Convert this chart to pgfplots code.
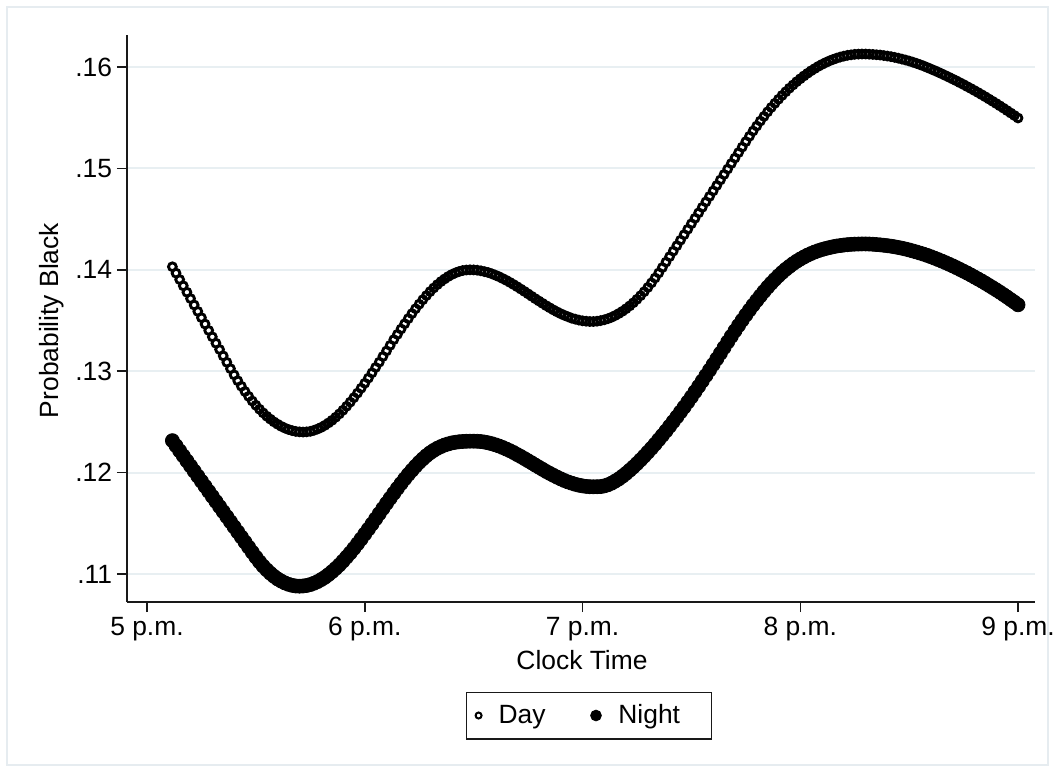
\documentclass[border=0pt]{standalone}
\usepackage{fontspec}
\setmainfont{Liberation Sans}
\usepackage{pgfplots}
\usepackage{pgfplotstable}
\pgfplotsset{compat=1.18}

\definecolor{gridc}{RGB}{232,239,242}
\definecolor{framec}{RGB}{230,236,240}
\definecolor{axisc}{RGB}{25,25,25}

% Predicted probability by minute after 5 p.m.
\pgfplotstableread{
t day night
7 .14030 .12315
8 .13967 .12265
9 .13904 .12215
10 .13842 .12165
11 .13779 .12115
12 .13716 .12065
13 .13653 .12015
14 .13590 .11965
15 .13528 .11915
16 .13465 .11865
17 .13402 .11815
18 .13339 .11765
19 .13276 .11715
20 .13214 .11665
21 .13151 .11615
22 .13088 .11565
23 .13025 .11515
24 .12964 .11465
25 .12906 .11415
26 .12852 .11365
27 .12800 .11315
28 .12752 .11265
29 .12706 .11215
30 .12664 .11166
31 .12625 .11120
32 .12589 .11078
33 .12556 .11041
34 .12527 .11007
35 .12500 .10977
36 .12477 .10951
37 .12456 .10930
38 .12439 .10912
39 .12425 .10898
40 .12414 .10888
41 .12406 .10882
42 .12402 .10880
43 .12400 .10882
44 .12402 .10887
45 .12407 .10896
46 .12417 .10909
47 .12430 .10925
48 .12446 .10945
49 .12466 .10967
50 .12490 .10994
51 .12516 .11023
52 .12546 .11055
53 .12579 .11089
54 .12615 .11127
55 .12654 .11167
56 .12695 .11208
57 .12739 .11252
58 .12784 .11298
59 .12832 .11345
60 .12881 .11394
61 .12932 .11443
62 .12984 .11493
63 .13037 .11544
64 .13089 .11595
65 .13145 .11646
66 .13200 .11697
67 .13255 .11747
68 .13311 .11796
69 .13363 .11845
70 .13416 .11892
71 .13468 .11938
72 .13519 .11982
73 .13568 .12023
74 .13616 .12063
75 .13661 .12101
76 .13705 .12135
77 .13746 .12167
78 .13785 .12195
79 .13821 .12219
80 .13854 .12240
81 .13884 .12257
82 .13910 .12272
83 .13934 .12283
84 .13954 .12293
85 .13970 .12299
86 .13983 .12304
87 .13993 .12307
88 .13998 .12309
89 .14000 .12310
90 .13999 .12310
91 .13996 .12309
92 .13990 .12306
93 .13982 .12301
94 .13973 .12294
95 .13961 .12285
96 .13947 .12274
97 .13932 .12262
98 .13914 .12248
99 .13896 .12232
100 .13876 .12216
101 .13855 .12198
102 .13833 .12178
103 .13810 .12159
104 .13787 .12138
105 .13763 .12117
106 .13739 .12096
107 .13715 .12074
108 .13692 .12053
109 .13669 .12032
110 .13646 .12011
111 .13625 .11992
112 .13604 .11973
113 .13585 .11955
114 .13567 .11938
115 .13551 .11922
116 .13537 .11908
117 .13523 .11896
118 .13513 .11885
119 .13504 .11876
120 .13497 .11869
121 .13493 .11864
122 .13490 .11861
123 .13490 .11860
124 .13493 .11861
125 .13499 .11862
126 .13507 .11869
127 .13518 .11880
128 .13532 .11896
129 .13549 .11916
130 .13569 .11938
131 .13591 .11964
132 .13616 .11992
133 .13644 .12023
134 .13675 .12055
135 .13709 .12089
136 .13745 .12125
137 .13784 .12162
138 .13826 .12201
139 .13871 .12240
140 .13919 .12281
141 .13969 .12324
142 .14022 .12367
143 .14076 .12411
144 .14130 .12457
145 .14184 .12503
146 .14238 .12550
147 .14292 .12598
148 .14346 .12646
149 .14400 .12696
150 .14454 .12746
151 .14508 .12798
152 .14562 .12850
153 .14616 .12903
154 .14670 .12957
155 .14724 .13011
156 .14778 .13066
157 .14832 .13122
158 .14886 .13177
159 .14940 .13233
160 .14994 .13289
161 .15048 .13344
162 .15102 .13398
163 .15156 .13451
164 .15210 .13503
165 .15264 .13554
166 .15317 .13603
167 .15369 .13651
168 .15418 .13697
169 .15467 .13742
170 .15513 .13786
171 .15558 .13828
172 .15601 .13868
173 .15642 .13905
174 .15682 .13941
175 .15720 .13974
176 .15756 .14005
177 .15791 .14033
178 .15823 .14060
179 .15855 .14084
180 .15884 .14106
181 .15912 .14126
182 .15938 .14145
183 .15963 .14161
184 .15985 .14176
185 .16007 .14189
186 .16026 .14200
187 .16044 .14210
188 .16060 .14219
189 .16074 .14227
190 .16087 .14234
191 .16098 .14239
192 .16107 .14244
193 .16115 .14248
194 .16120 .14251
195 .16125 .14253
196 .16127 .14254
197 .16128 .14255
198 .16128 .14255
199 .16126 .14254
200 .16124 .14252
201 .16121 .14249
202 .16118 .14246
203 .16113 .14242
204 .16108 .14238
205 .16102 .14233
206 .16095 .14227
207 .16087 .14220
208 .16078 .14213
209 .16069 .14205
210 .16059 .14196
211 .16048 .14186
212 .16036 .14176
213 .16023 .14165
214 .16010 .14154
215 .15995 .14142
216 .15980 .14129
217 .15965 .14115
218 .15949 .14101
219 .15933 .14086
220 .15916 .14071
221 .15899 .14055
222 .15881 .14039
223 .15864 .14022
224 .15845 .14004
225 .15827 .13986
226 .15807 .13968
227 .15788 .13949
228 .15768 .13929
229 .15748 .13909
230 .15727 .13889
231 .15706 .13868
232 .15684 .13846
233 .15662 .13824
234 .15640 .13802
235 .15617 .13779
236 .15594 .13755
237 .15570 .13731
238 .15546 .13706
239 .15522 .13681
240 .15497 .13655
}\probtable

\begin{document}
\begin{tikzpicture}
\path[use as bounding box] (0,0) rectangle (527.5bp,386bp);
\fill[white] (0,0) rectangle (527.5bp,386bp);
\draw[framec, line width=1bp] (3.5bp,3.5bp) rectangle (524bp,382.5bp);
\begin{axis}[
  at={(63.5bp,85bp)}, anchor=south west,
  width=454bp, height=283.5bp, scale only axis,
  xmin=-5.51, xmax=244.68, ymin=0.107239, ymax=0.163156,
  axis x line*=bottom, axis y line*=left,
  axis line style={axisc, line width=0.75bp},
  xtick={0,60,120,180,240},
  xticklabels={5 p.m.,6 p.m.,7 p.m.,8 p.m.,9 p.m.},
  ytick={0.11,0.12,0.13,0.14,0.15,0.16},
  yticklabels={.11,.12,.13,.14,.15,.16},
  tick align=outside, major tick length=5bp,
  tick style={axisc, line width=0.75bp},
  ymajorgrids, grid style={gridc, line width=1bp},
  every tick label/.append style={font=\fontsize{13.25}{15}\selectfont},
  yticklabel style={inner xsep=0pt, xshift=-2.25bp},
  xticklabel style={yshift=1bp},
  xlabel={Clock Time}, ylabel={Probability Black},
  every axis x label/.style={at={(rel axis cs:0.5011,-0.1023)}, anchor=center,
    font=\fontsize{13.25}{15}\selectfont},
  every axis y label/.style={at={(rel axis cs:-0.0826,0.4965)}, rotate=90, anchor=center,
    font=\fontsize{13.25}{15}\selectfont},
  legend style={
    at={(0.5088,-0.2002)}, anchor=center,
    draw=axisc, line width=0.75bp,
    inner xsep=4.5bp, inner ysep=6.1bp,
    nodes={inner sep=0pt, font=\fontsize{13.25}{15}\selectfont},
    legend columns=2,
    /tikz/every odd column/.append style={column sep=8.5bp},
  },
  legend image code/.code={\draw[#1] plot coordinates {(0bp,0bp)};},
]
\addplot[only marks, mark=o, mark size=1.95bp, line width=1.45bp, black,
  legend image post style={mark size=1.5bp, line width=1bp}]
  table[x=t, y=day] {\probtable};
\addlegendentry{\makebox[46bp][l]{Day}}
\addplot[only marks, mark=*, mark size=3.5bp, line width=0.4bp, black,
  legend image post style={mark size=2.7bp}]
  table[x=t, y=night] {\probtable};
\addlegendentry{\makebox[42bp][l]{Night}}
\end{axis}
\end{tikzpicture}
\end{document}
